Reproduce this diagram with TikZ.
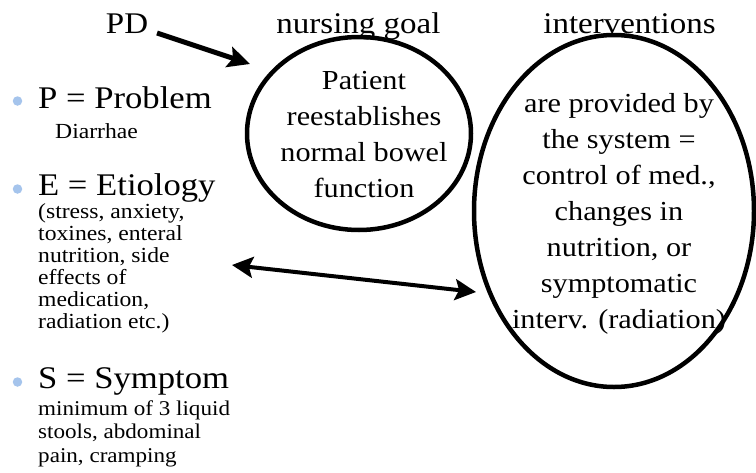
\documentclass[tikz,border=0pt]{standalone}
\usepackage{fontspec}
\setmainfont[FakeStretch=1.1]{Liberation Serif}
\usetikzlibrary{shapes.geometric,arrows.meta}
\definecolor{bulletblue}{RGB}{165,196,236}
\tikzset{
  head/.style={font=\fontsize{30}{36}\selectfont, inner sep=0pt, anchor=base},
  big/.style={font=\fontsize{31.5}{36}\selectfont, inner sep=0pt, anchor=base west},
  smalltxt/.style={font=\fontsize{21.5}{22}\selectfont, inner sep=0pt, anchor=base west, align=left},
  circtext/.style={font=\fontsize{27.5}{36}\selectfont, inner sep=0pt, anchor=base, align=center},
  oval/.style={ellipse, draw, line width=4.5pt, inner sep=0pt},
  dot/.style={circle, fill=bulletblue, minimum size=9.5pt, inner sep=0pt},
  bigarrow/.style={line width=5pt, -{Stealth[length=22pt,width=21pt,inset=4pt]}},
  dblarrow/.style={line width=4pt, {Stealth[length=21pt,width=21pt,inset=4pt]}-{Stealth[length=21pt,width=21pt,inset=4pt]}}
}
\begin{document}
\begin{tikzpicture}[x=1pt,y=-1pt]
\useasboundingbox (0,0) rectangle (756,472);
% headings
\node[head] (pd) at (127,33) {PD};
\node[head] (goal) at (358.5,33) {nursing goal};
\node[head] (interv) at (629.5,33) {interventions};
% ovals
\node[oval, minimum width=224pt, minimum height=193pt] (goalov) at (359,133.5) {};
\node[oval, minimum width=280pt, minimum height=352pt] (intov) at (614,211) {};
\node[circtext] (goaltxt) at (364,197) {Patient\\reestablishes\\normal bowel\\function};
\node[circtext] (inttxt) at (619,328) {are provided by\\the system =\\control of med.,\\changes in\\nutrition, or\\symptomatic\\interv. (radiation)};
% bullets
\node[dot] (d1) at (17.5,101) {};
\node[dot] (d2) at (17.5,189) {};
\node[dot] (d3) at (17.5,382) {};
\node[big] (p) at (38,108) {P = Problem};
\node[smalltxt] (ptxt) at (55,138) {Diarrhae};
\node[big] (e) at (38,195) {E = Etiology};
\node[smalltxt] (etxt) at (38,328) {(stress, anxiety,\\toxines, enteral\\nutrition, side\\effects of\\medication,\\radiation etc.)};
\node[big] (s) at (38,388) {S = Symptom};
\node[smalltxt, font=\fontsize{21}{23.5}\selectfont] (stxt) at (38,462) {minimum of 3 liquid\\stools, abdominal\\pain, cramping};
% arrows
\coordinate (pdstart) at (157,33);
\coordinate (pdtip) at (250,64);
\draw[bigarrow] (pdstart) -- (pdtip);
\coordinate (leftend) at (232,265);
\coordinate (rightend) at (476,292);
\draw[dblarrow] (leftend) -- (rightend);
\end{tikzpicture}
\end{document}
